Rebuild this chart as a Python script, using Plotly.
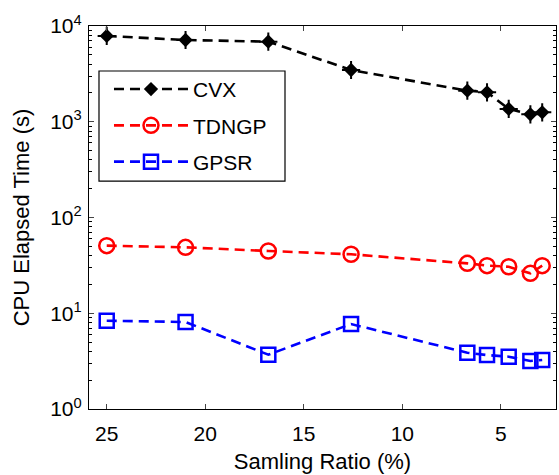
import plotly.graph_objects as go

ratio = [25, 21, 16.8, 12.6, 6.7, 5.7, 4.6, 3.5, 2.9]
cvx = [7870, 7140, 6860, 3470, 2110, 2030, 1360, 1196, 1255]
tdngp = [50.8, 48.8, 44.7, 41.3, 33.2, 31.4, 30.6, 26.1, 31.4]
gpsr = [8.36, 8.1, 3.69, 7.72, 3.87, 3.66, 3.52, 3.17, 3.25]

xticks = [25, 20, 15, 10, 5]
yticks = [1, 10, 100, 1000, 10000]
yticktext = ["10<sup>0</sup>", "10<sup>1</sup>", "10<sup>2</sup>", "10<sup>3</sup>", "10<sup>4</sup>"]
yminor = [m * d for d in [1, 10, 100, 1000] for m in range(2, 10)]

FAM = "Liberation Sans, Arial, sans-serif"
DASH = "10px,6px"

fig = go.Figure()
fig.add_trace(go.Scatter(x=ratio, y=cvx, name="CVX", mode="lines+markers", legendgroup="a",
                         line=dict(color="black", width=2.6, dash=DASH),
                         marker=dict(symbol="diamond", size=11, color="black")))
fig.add_trace(go.Scatter(x=ratio, y=cvx, mode="markers", legendgroup="a", showlegend=False,
                         hoverinfo="skip",
                         marker=dict(symbol="cross-thin-open", size=13, color="black",
                                     line=dict(width=2, color="black"))))
fig.add_trace(go.Scatter(x=ratio, y=tdngp, name="TDNGP", mode="lines+markers", legendgroup="b",
                         line=dict(color="#ff0000", width=2.6, dash=DASH),
                         marker=dict(symbol="circle-open", size=15, color="#ff0000",
                                     line=dict(width=2.5, color="#ff0000"))))
fig.add_trace(go.Scatter(x=ratio, y=gpsr, name="GPSR", mode="lines+markers", legendgroup="c",
                         line=dict(color="#0000ff", width=2.6, dash=DASH),
                         marker=dict(symbol="square-open", size=14, color="#0000ff",
                                     line=dict(width=2.5, color="#0000ff"))))

fig.update_layout(
    width=559, height=475,
    margin=dict(l=89, r=3, t=26, b=66),
    paper_bgcolor="white", plot_bgcolor="white",
    font=dict(family=FAM, size=18, color="black"),
    legend=dict(x=0.0428, y=0.888, xanchor="left", yanchor="top",
                borderwidth=0, bgcolor="rgba(0,0,0,0)",
                font=dict(family=FAM, size=21, color="black"), itemwidth=74,
                traceorder="grouped", tracegroupgap=6),
    showlegend=True,
    shapes=[dict(type="rect", xref="paper", yref="paper",
                 x0=0.0214, x1=0.4197, y0=0.595, y1=0.8825,
                 line=dict(color="black", width=1.2), fillcolor="white", layer="below")],
)
fig.update_xaxes(
    range=[25.9, 2.2], tickvals=xticks, ticks="inside", ticklen=5,
    showline=True, linecolor="black", linewidth=1.2, mirror="ticks",
    showgrid=False, zeroline=False,
    title=dict(text="Samling Ratio (%)", standoff=9,
               font=dict(family=FAM, size=22, color="black")),
    tickfont=dict(family=FAM, size=21, color="black"), ticklabelstandoff=6,
)
fig.update_yaxes(
    type="log", range=[0, 4], tickvals=yticks, ticktext=yticktext,
    ticks="inside", ticklen=5, showline=True, linecolor="black", linewidth=1.2,
    mirror="ticks", showgrid=False, zeroline=False,
    minor=dict(tickmode="array", tickvals=yminor, ticks="inside", ticklen=3,
               tickcolor="black", showgrid=False),
    title=dict(text="CPU Elapsed Time (s)", standoff=14,
               font=dict(family=FAM, size=22, color="black")),
    tickfont=dict(family=FAM, size=21, color="black"), ticklabelstandoff=2,
)

fig.write_html("out.html", config={"displayModeBar": False},
               post_script="document.body.style.margin='0';document.body.style.padding='0';")
